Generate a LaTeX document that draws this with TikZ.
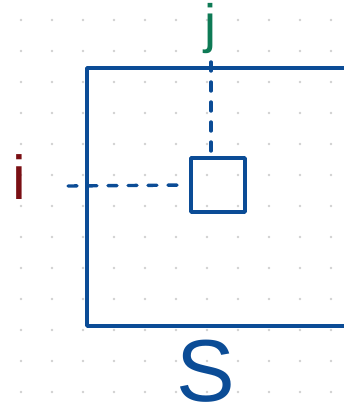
\documentclass[tikz,border=0pt]{standalone}
\usepackage{fontspec}
\setmainfont{Liberation Sans}
\usepackage{xcolor}
\definecolor{inkblue}{HTML}{0B4C96}
\definecolor{inkgreen}{HTML}{0E7A55}
\definecolor{inkred}{HTML}{7A0F14}
\definecolor{dotgrey}{HTML}{CFCFCF}

\begin{document}
\begin{tikzpicture}[
  x=1pt, y=-1pt,
  frame/.style={draw=inkblue, line width=3.4pt, line cap=round, line join=round},
  cellbox/.style={frame, minimum size=54pt, inner sep=0pt},
  guide/.style={draw=inkblue, line width=3.4pt, line cap=round, dash pattern=on 9pt off 11pt},
  lbl/.style={inner sep=0pt, font=\fontsize{#1}{#1}\selectfont}
]
\useasboundingbox (0,0) rectangle (344,415);
\foreach \gx in {0,...,10}
  \foreach \gy in {0,...,12}
    \fill[dotgrey] (21+31*\gx, 20+31*\gy) circle (1.4);

\draw[frame] (346,68) -- (87,68) -- (87,326) -- (346,326);
\node[cellbox] (cell) at (218,185) {};

\node[lbl=62, text=inkred] (ilbl) at (19,177) {i};
\node[lbl=54, text=inkgreen] (jlbl) at (210,29) {j};
\node[lbl=88, text=inkblue] (slbl) at (206,371) {S};

\coordinate (ifoot) at (68,186);
\coordinate (jfoot) at (211,62);
\draw[guide, shorten >=6pt] (ifoot) -- (cell.west);
\draw[guide] (jfoot) -- (jfoot |- cell.north);
\end{tikzpicture}
\end{document}
